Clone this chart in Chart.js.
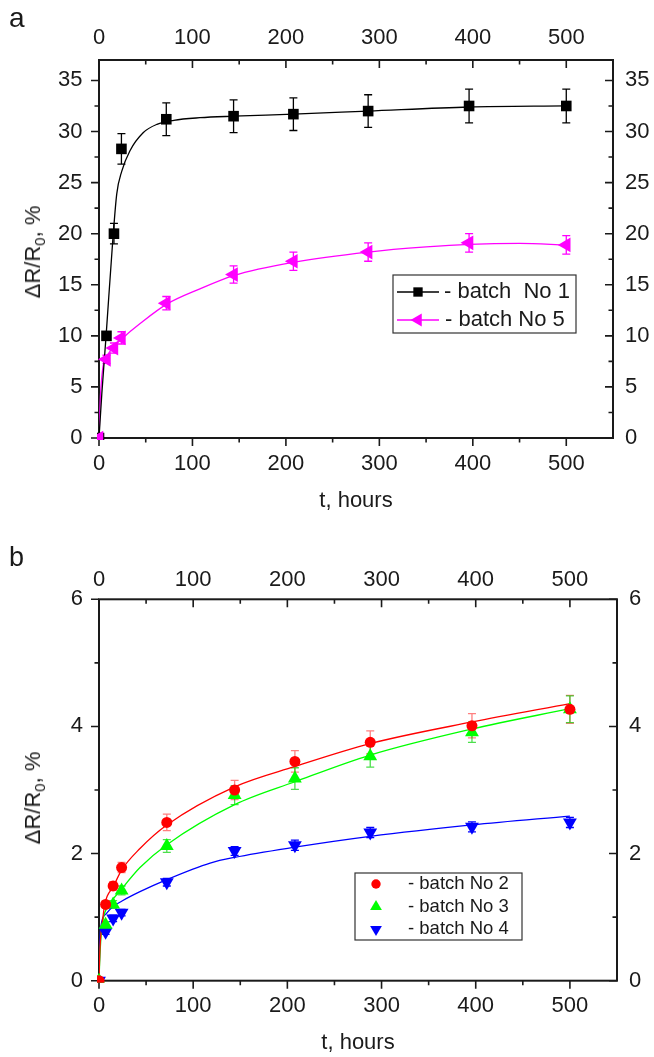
<!DOCTYPE html>
<html lang="en">
<head>
<meta charset="utf-8">
<title>ΔR/R0 versus time, batches 1-5</title>
<script src="https://cdn.jsdelivr.net/npm/chart.js@4.4.1/dist/chart.umd.min.js"></script>
<style>
  body { margin: 0; background: #fff; font-family: "Liberation Sans", Arial, Helvetica, sans-serif; color: #1a1a1a; }
  #page { position: relative; width: 654px; height: 1057px; overflow: hidden; }
  canvas { position: absolute; left: 0; }
  #chartA { top: 0; }
  #chartB { top: 520px; }
  .letter { position: absolute; left: 9px; line-height: 1; }
  .ytitle { position: absolute; font-size: 22px; line-height: 22px; white-space: nowrap;
            transform: translate(-50%, -50%) rotate(-90deg); }
  .ytitle sub { font-size: 15px; line-height: 0; }
</style>
</head>
<body>
<div id="page">
  <canvas id="chartA" width="654" height="520"></canvas>
  <canvas id="chartB" width="654" height="537"></canvas>
  <div class="letter" style="top:4px; font-size:28px;">a</div>
  <div class="letter" style="top:544px; font-size:27px;">b</div>
  <div class="ytitle" style="left:33px; top:252px;">ΔR/R<sub>0</sub>, %</div>
  <div class="ytitle" style="left:33px; top:798px;">ΔR/R<sub>0</sub>, %</div>
</div>

<script>
// ---- panel a data ----
const hoursA = [0, 8, 16, 24, 72, 144, 208, 288, 396, 500];
const batch1 = [0, 10, 20, 28.3, 31.2, 31.5, 31.7, 32.0, 32.5, 32.5];
const batch1Err = [0, 0.4, 1.0, 1.5, 1.6, 1.6, 1.6, 1.6, 1.65, 1.65];
const batch5 = [0, 7.7, 8.8, 9.8, 13.2, 16.0, 17.3, 18.2, 19.1, 18.9];
const batch5Err = [0, 0.4, 0.5, 0.6, 0.65, 0.85, 0.9, 0.9, 0.9, 0.9];
// fitted curves
const fit1T = [0, 3, 7.5, 14.7, 19, 24.3, 33, 47.5, 62, 80, 108, 144, 208, 288, 396, 500];
const fit1Y = [0, 4.3, 9.9, 19.3, 23.9, 26.1, 28.1, 29.9, 30.7, 31.1, 31.35, 31.5, 31.7, 32.0, 32.4, 32.5];
const fit5T = [0, 1.5, 4, 8, 15.3, 24.3, 44, 72.5, 108, 144, 208, 288, 350, 396, 450, 500];
const fit5Y = [0, 4.0, 6.8, 7.9, 8.9, 9.7, 11.2, 13.1, 14.6, 15.9, 17.2, 18.2, 18.7, 18.95, 19.05, 18.9];

// ---- panel b data ----
const hoursB = [0, 7, 15, 24, 72, 144, 208, 288, 396, 500];
const batch2 = [0, 1.2, 1.49, 1.78, 2.49, 3.0, 3.45, 3.75, 4.01, 4.27];
const batch2Err = [0, 0.05, 0.07, 0.08, 0.13, 0.15, 0.17, 0.18, 0.19, 0.22];
const batch3 = [0, 0.88, 1.2, 1.42, 2.12, 2.92, 3.18, 3.53, 3.91, 4.27];
const batch3Err = [0, 0.05, 0.06, 0.07, 0.1, 0.15, 0.17, 0.17, 0.16, 0.21];
const batch4 = [0, 0.77, 0.98, 1.07, 1.55, 2.04, 2.13, 2.33, 2.42, 2.49];
const batch4Err = [0, 0.04, 0.05, 0.05, 0.06, 0.07, 0.08, 0.08, 0.08, 0.08];
const fit2T = [0, 1, 3.9, 6.4, 15.2, 24, 43.5, 72, 144, 208, 288, 396, 500];
const fit2Y = [0, 0.5, 0.96, 1.22, 1.48, 1.74, 2.08, 2.45, 3.05, 3.37, 3.73, 4.07, 4.36];
const fit3T = [0, 1, 2.8, 11.7, 24, 43.5, 72, 144, 208, 288, 396, 500];
const fit3Y = [0, 0.4, 0.8, 1.2, 1.44, 1.78, 2.14, 2.77, 3.13, 3.55, 3.96, 4.28];
const fit4T = [0, 0.8, 1.7, 8, 15.3, 24, 43.5, 72, 118, 144, 208, 288, 396, 500];
const fit4Y = [0, 0.55, 0.82, 1.06, 1.17, 1.25, 1.4, 1.59, 1.85, 1.94, 2.1, 2.27, 2.45, 2.59];

const fontFamily = '"Liberation Sans", Arial, Helvetica, sans-serif';
const ink = '#1a1a1a';

function pairs(xs, ys) {
  return xs.map((x, i) => ({x: x, y: ys[i]}));
}

function makeScale(position, min, max, step, size, pad, lastLabel) {
  const horizontal = position === 'top' || position === 'bottom';
  return {
    type: 'linear', position: position, min: min, max: max, bounds: 'data',
    grid: {display: false, drawTicks: false},
    border: {display: false},
    ticks: {
      stepSize: step, includeBounds: false, autoSkip: false, maxRotation: 0,
      padding: pad, color: ink, font: {family: fontFamily, size: 22},
      callback: v => (v <= lastLabel + 1e-9 ? v : '')
    },
    afterFit: s => { if (horizontal) s.height = size; else s.width = size; }
  };
}

function markers(label, xs, ys, errs, color, errColor, style, radius, rotation) {
  return {
    label: label, data: pairs(xs, ys), errors: errs, errorColor: errColor,
    showLine: false, pointStyle: style, pointRadius: radius, pointRotation: rotation,
    pointBackgroundColor: color, pointBorderWidth: 0, backgroundColor: color,
    borderColor: color, legendLine: color, clip: 2
  };
}

function curve(xs, ys, color) {
  return {
    label: 'fit', data: pairs(xs, ys), borderColor: color, borderWidth: 1.3,
    pointRadius: 0, cubicInterpolationMode: 'monotone', fill: false
  };
}

// frame + tick marks (outside on left/bottom, inside on top/right)
const frameTicks = {
  id: 'frameTicks',
  beforeDatasetsDraw(chart, args, o) {
    const ctx = chart.ctx, a = chart.chartArea;
    const xs = chart.scales.x, ys = chart.scales.y;
    ctx.save();
    ctx.strokeStyle = ink;
    ctx.lineWidth = 2;
    ctx.strokeRect(a.left, a.top, a.right - a.left, a.bottom - a.top);
    ctx.lineWidth = 1.6;
    ctx.beginPath();
    for (let i = 0; i * o.xMinor <= o.xLast + 1e-9; i++) {
      const v = i * o.xMinor;
      const len = (i % 2 === 0) ? 8 : 4.5;
      const px = xs.getPixelForValue(v);
      ctx.moveTo(px, a.bottom); ctx.lineTo(px, a.bottom + len);
      ctx.moveTo(px, a.top); ctx.lineTo(px, a.top + len);
    }
    for (let i = 0; i * o.yMinor <= o.yLast + 1e-9; i++) {
      const v = i * o.yMinor;
      const len = (i % 2 === 0) ? 8 : 4.5;
      const py = ys.getPixelForValue(v);
      ctx.moveTo(a.left - len, py); ctx.lineTo(a.left, py);
      ctx.moveTo(a.right - len, py); ctx.lineTo(a.right, py);
    }
    ctx.stroke();
    ctx.restore();
  }
};

const errorBars = {
  id: 'errorBars',
  beforeDatasetsDraw(chart) {
    const ctx = chart.ctx;
    chart.data.datasets.forEach((ds, i) => {
      if (!ds.errors) return;
      const meta = chart.getDatasetMeta(i);
      const ys = chart.scales[meta.yAxisID];
      ctx.save();
      ctx.strokeStyle = ds.errorColor;
      ctx.lineWidth = 1.3;
      meta.data.forEach((pt, j) => {
        const e = ds.errors[j];
        if (!e) return;
        const v = ds.data[j].y;
        const top = ys.getPixelForValue(v + e), bot = ys.getPixelForValue(v - e);
        ctx.beginPath();
        ctx.moveTo(pt.x, top); ctx.lineTo(pt.x, bot);
        ctx.moveTo(pt.x - 4, top); ctx.lineTo(pt.x + 4, top);
        ctx.moveTo(pt.x - 4, bot); ctx.lineTo(pt.x + 4, bot);
        ctx.stroke();
      });
      ctx.restore();
    });
  }
};

function fallbackPoint(ctx, opt, x, y) {
  ctx.beginPath();
  ctx.arc(x, y, opt.radius, 0, Math.PI * 2);
  ctx.fill();
}
const drawPoint = (Chart.helpers && Chart.helpers.drawPoint) || fallbackPoint;

const legendBox = {
  id: 'legendBox',
  afterDatasetsDraw(chart, args, o) {
    const ctx = chart.ctx;
    const b = o.box;
    ctx.save();
    ctx.fillStyle = '#fff';
    ctx.fillRect(b[0], b[1], b[2], b[3]);
    ctx.strokeStyle = '#333';
    ctx.lineWidth = 1.2;
    ctx.strokeRect(b[0], b[1], b[2], b[3]);
    ctx.font = o.font;
    ctx.textBaseline = 'middle';
    o.rows.forEach(r => {
      const ds = chart.data.datasets[r.dataset];
      if (r.line) {
        ctx.strokeStyle = ds.legendLine;
        ctx.lineWidth = 1.5;
        ctx.beginPath();
        ctx.moveTo(r.line[0], r.y); ctx.lineTo(r.line[1], r.y);
        ctx.stroke();
      }
      ctx.fillStyle = ds.backgroundColor;
      drawPoint(ctx, {pointStyle: ds.pointStyle, radius: ds.pointRadius * o.scale,
                      rotation: ds.pointRotation || 0, borderWidth: 0}, r.marker, r.y);
      ctx.fillStyle = ink;
      ctx.fillText(ds.label, r.text, r.y);
    });
    ctx.restore();
  }
};

function baseOptions(scales, tickCfg, legendCfg) {
  return {
    responsive: false, animation: false,
    layout: {padding: 0},
    scales: scales,
    plugins: {
      legend: {display: false}, tooltip: {enabled: false},
      frameTicks: tickCfg, legendBox: legendCfg
    }
  };
}

// ---- panel a ----
const scalesA = {
  x: makeScale('bottom', 0, 550, 100, 82, 12.8, 500),
  x2: makeScale('top', 0, 550, 100, 60, 8.5, 500),
  y: makeScale('left', 0, 37, 5, 99, 16.5, 35),
  y2: makeScale('right', 0, 37, 5, 41, 12, 35)
};
scalesA.x.title = {display: true, text: 't, hours', color: ink,
                   font: {family: fontFamily, size: 22}, padding: {top: 0, bottom: 5.8}};

new Chart(document.getElementById('chartA'), {
  type: 'line',
  data: {datasets: [
    markers('- batch No 5', hoursA, batch5, batch5Err, '#ff00ff', '#ff00ff', 'triangle', 8.5, -90),
    markers('- batch  No 1', hoursA, batch1, batch1Err, '#000000', '#000000', 'rect', 7.5, 0),
    curve(fit1T, fit1Y, '#000000'),
    curve(fit5T, fit5Y, '#ff00ff')
  ]},
  options: baseOptions(scalesA,
    {xMinor: 50, xLast: 500, yMinor: 2.5, yLast: 35},
    {box: [393, 275, 183, 58], font: '22px ' + fontFamily, scale: 0.88, rows: [
      {dataset: 1, y: 292, line: [397, 439], marker: 418, text: 444},
      {dataset: 0, y: 320, line: [397, 439], marker: 418, text: 445}
    ]}),
  plugins: [frameTicks, errorBars, legendBox]
});

// ---- panel b ----
const scalesB = {
  x: makeScale('bottom', 0, 550, 100, 76.3, 11.9, 500),
  x2: makeScale('top', 0, 550, 100, 79.3, 6.1, 500),
  y: makeScale('left', 0, 6, 2, 99, 16, 6),
  y2: makeScale('right', 0, 6, 2, 37, 12, 6)
};
scalesB.x.title = {display: true, text: 't, hours', color: ink,
                   font: {family: fontFamily, size: 22}, padding: {top: 0, bottom: 1.3}};

new Chart(document.getElementById('chartB'), {
  type: 'line',
  data: {datasets: [
    markers('- batch No 2', hoursB, batch2, batch2Err, '#ff0000', 'rgba(255,0,0,0.5)', 'circle', 5.5, 0),
    markers('- batch No 3', hoursB, batch3, batch3Err, '#00ff00', 'rgba(0,210,0,0.7)', 'triangle', 8, 0),
    markers('- batch No 4', hoursB, batch4, batch4Err, '#0000ff', '#0000ff', 'triangle', 8, 180),
    curve(fit2T, fit2Y, '#ff0000'),
    curve(fit3T, fit3Y, '#00ff00'),
    curve(fit4T, fit4Y, '#0000ff')
  ]},
  options: baseOptions(scalesB,
    {xMinor: 50, xLast: 500, yMinor: 1, yLast: 6},
    {box: [355, 353, 167, 67], font: '18.5px ' + fontFamily, scale: 0.85, rows: [
      {dataset: 0, y: 364, marker: 376, text: 408},
      {dataset: 1, y: 386.7, marker: 376, text: 408},
      {dataset: 2, y: 409.3, marker: 376, text: 408}
    ]}),
  plugins: [frameTicks, errorBars, legendBox]
});
</script>
</body>
</html>
